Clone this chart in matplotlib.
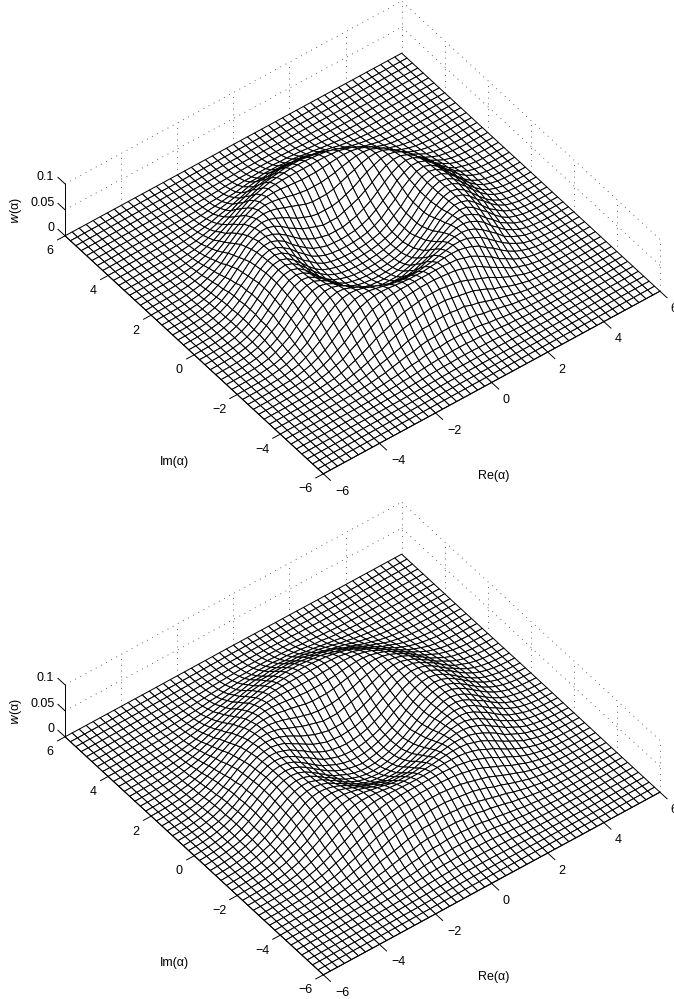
import numpy as np
import matplotlib
matplotlib.use("Agg")
import matplotlib.pyplot as plt
from mpl_toolkits.mplot3d import proj3d

plt.rcParams["font.family"] = ["Liberation Sans", "DejaVu Sans"]

# -----------------------------
# Data
# -----------------------------
grid_re = np.arange(-6, 6.01, 0.25)
grid_im = np.arange(-6, 6.01, 0.25)

re_ticks = [-6, -4, -2, 0, 2, 4, 6]
im_ticks = [-6, -4, -2, 0, 2, 4, 6]
w_ticks = [0, 0.05, 0.1]
w_tick_labels = ["0", "0.05", "0.1"]

# height of the ring against radius, one entry per 0.05 of radius, in 1e-4
ring_step = 0.05
ring_top = [
    3, 4, 5, 6, 7, 9, 10, 12, 14, 17, 20, 23, 27, 32, 37, 42, 49, 56, 64, 73,
    82, 93, 105, 118, 132, 147, 164, 181, 200, 220, 241, 263, 287, 311, 336, 362, 389, 416, 443, 471,
    498, 526, 553, 579, 605, 630, 653, 675, 695, 713, 729, 743, 755, 764, 771, 775,
    776,
    775, 771, 764, 755, 743, 729, 713, 695, 675, 653, 630, 605, 579, 553, 526, 498, 471, 443, 416,
    389, 362, 336, 311, 287, 263, 241, 220, 200, 181, 164, 147, 132, 118, 105, 93, 82, 73, 64, 56,
    49, 42, 37, 32, 27, 23, 20, 17, 14, 12, 10, 9, 7, 6, 5, 4, 3, 3, 2, 2,
    2, 1, 1, 1, 1,
]
ring_bottom = [
    22, 25, 28, 32, 36, 40, 45, 50, 56, 62, 69, 76, 84, 92, 102, 111, 122, 133, 145, 157,
    170, 184, 199, 214, 230, 246, 263, 281, 299, 317, 336, 356, 375, 395, 414, 434, 454, 473, 492, 511,
    529, 547, 564, 580, 595, 610, 623, 635, 646, 656, 664, 671, 676, 680, 682,
    683,
    682, 680, 676, 671, 664, 656, 646, 635, 623, 610, 595, 580, 564, 547, 529, 511, 492, 473, 454,
    434, 414, 395, 375, 356, 336, 317, 299, 281, 263, 246, 230, 214, 199, 184, 170, 157, 145, 133, 122,
    111, 102, 92, 84, 76, 69, 62, 56, 50, 45, 40, 36, 32, 28, 25, 22, 20, 17, 15, 13,
    12, 10, 9, 8, 7, 6, 5, 4, 4, 3, 3, 2, 2, 2, 1, 1, 1, 1,
]

W_PX, H_PX = 674, 999
fig = plt.figure(figsize=(W_PX / 100, H_PX / 100), dpi=100)


def to_screen(ax, x, y, z):
    xs, ys, _ = proj3d.proj_transform(x, y, z, ax.get_proj())
    return ax.transData.transform((xs, ys))


def place_axes(ax, left_px, bottom_px, side_px):
    ax.set_position([left_px / W_PX, bottom_px / H_PX, side_px / W_PX, side_px / H_PX])
    ax.apply_aspect()


def draw_panel(profile, y_shift):
    ax = fig.add_axes([0, 0, 1, 1], projection="3d", computed_zorder=False)
    ax.set_proj_type("ortho")
    ax.view_init(elev=45, azim=-127.5)
    ax.set_xlim(-6, 6)
    ax.set_ylim(-6, 6)
    ax.set_zlim(0, 0.1)
    # small zoom so the axes box is wider than the mesh and nothing is clipped
    ax.set_box_aspect((1, 1, 0.1731), zoom=0.6)
    ax.set_xticks([])
    ax.set_yticks([])
    ax.set_zticks([])
    ax.set_axis_off()
    ax.patch.set_visible(False)

    # line the floor up with the corners seen in the picture
    side = 700.0
    place_axes(ax, 0, 0, side)
    a = to_screen(ax, -6, 6, 0)
    b = to_screen(ax, 6, -6, 0)
    side = side * np.hypot(595, 54) / np.hypot(*(b - a))
    place_axes(ax, 0, 0, side)
    a = to_screen(ax, -6, 6, 0)
    b = to_screen(ax, 6, -6, 0)
    mid = (a + b) / 2
    place_axes(ax, 362.5 - mid[0], H_PX - (263.5 + y_shift) - mid[1], side)

    # surface
    X, Y = np.meshgrid(grid_re, grid_im)
    heights = np.array(list(profile) + [0]) * 1e-4
    idx = np.rint(np.hypot(X, Y) / ring_step).astype(int)
    Z = heights[np.minimum(idx, len(heights) - 1)]
    ax.plot_surface(X, Y, Z, rcount=len(grid_im), ccount=len(grid_re), color="white",
                    edgecolor="black", linewidth=0.72, shade=False, zorder=2)

    # dotted box behind the surface
    dots = dict(color="#333333", linewidth=0.6, linestyle=(0, (1, 6)), zorder=1)
    for z in w_ticks[1:]:
        ax.plot([-6, 6], [6, 6], [z, z], **dots)
        ax.plot([6, 6], [-6, 6], [z, z], **dots)
    for v in re_ticks[1:]:
        ax.plot([v, v], [6, 6], [0, 0.1], **dots)
    for v in im_ticks[1:-1]:
        ax.plot([6, 6], [v, v], [0, 0.1], **dots)
    ax.plot([6, 6], [-6, -6], [0, 0.1], **dots)

    # solid axes and ticks
    solid = dict(color="black", linewidth=0.7, zorder=3)
    ax.plot([-6, 6], [-6, -6], [0, 0], **solid)
    ax.plot([-6, -6], [-6, 6], [0, 0], **solid)
    ax.plot([-6, -6], [6, 6], [0, 0.1], **solid)
    for v in re_ticks:
        ax.plot([v, v], [-6, -6.33], [0, 0], **solid)
        # labels without a minus sit a little further left
        dx, dy = (0, 0) if v < 0 else (-0.11, 0.09)
        ax.text(v + dx, -6.9 + dy, 0, str(v).replace("-", "\u2212"), ha="center", va="center", fontsize=9)
    for v in im_ticks:
        ax.plot([-6, -6.27], [v, v], [0, 0], **solid)
        dx, dy = (0, 0) if v < 0 else (0.07, -0.05)
        ax.text(-6.78 + dx, v - 0.18 + dy, 0, str(v).replace("-", "\u2212"), ha="center", va="center", fontsize=9)
    for v, label in zip(w_ticks, w_tick_labels):
        ax.plot([-6, -6], [6, 6.33], [v, v], **solid)
        ax.text(-6, 6.5, v - 0.005, label, ha="right", va="center", fontsize=9)

    fig.text(494 / W_PX, 1 - (476 + y_shift) / H_PX, "Re(\u03b1)", ha="center", va="center", fontsize=9)
    fig.text(174 / W_PX, 1 - (462 + y_shift) / H_PX, "Im(\u03b1)", ha="center", va="center", fontsize=9)
    fig.text(16 / W_PX, 1 - (210 + y_shift) / H_PX, "$\\mathit{w}$(\u03b1)", rotation=90,
             ha="center", va="center", fontsize=9)


draw_panel(ring_top, 0)
draw_panel(ring_bottom, 501)

fig.savefig("out.png", dpi=100)
